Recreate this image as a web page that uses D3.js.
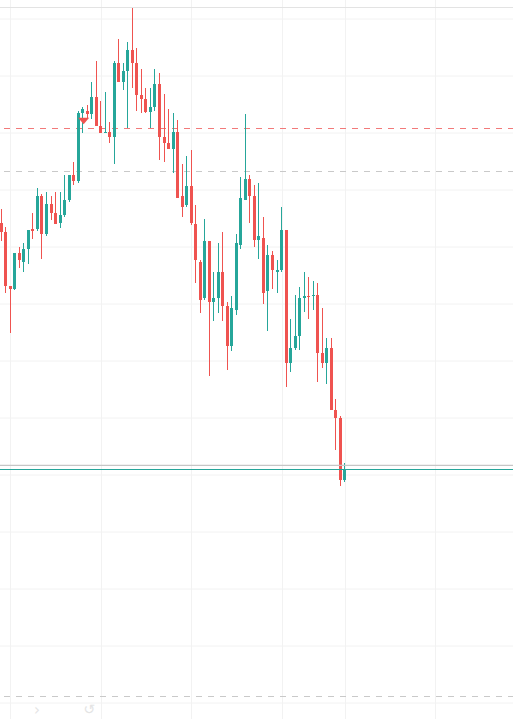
<!DOCTYPE html>
<html>
<head>
<meta charset="utf-8">
<script src="https://cdn.jsdelivr.net/npm/d3@7"></script>
<style>
  html, body { margin: 0; padding: 0; background: #ffffff; }
  #chart { width: 513px; height: 719px; overflow: hidden; }
</style>
</head>
<body>
<div id="chart"></div>
<script>
// candle data, one entry per bar (oldest first)
var open = [184.1,182.5,172.9,172.5,178.8,177.2,179.5,182.9,183.0,188.8,
  182.1,187.4,185.8,184.0,185.4,188.1,192.5,191.4,203.3,203.7,
  203.2,206.1,201.1,199.8,200.0,199.2,212.1,208.8,210.7,214.4,
  212.1,206.5,205.8,203.5,204.4,208.4,199.2,198.1,197.0,200.0,
  188.8,187.2,190.5,183.9,177.2,170.9,180.9,170.2,170.9,175.4,
  169.5,162.5,168.8,180.2,188.1,191.8,188.8,181.1,181.4,172.1,
  178.4,175.4,175.8,182.8,159.5,162.1,164.2,170.9,171.2,171.2,
  171.4,161.2,159.5,162.1,151.2,149.8,139.0]
var high = [186.5,183.3,172.9,178.8,179.8,180.5,182.8,185.8,190.2,189.2,
  189.5,188.8,189.5,189.5,192.5,192.5,194.7,203.7,204.4,204.7,
  208.8,212.5,205.4,207.0,201.8,212.5,216.3,212.1,215.8,221.8,
  214.7,211.1,207.7,207.7,211.1,210.4,206.7,204.0,203.3,202.1,
  194.4,195.8,196.8,187.2,177.5,184.7,180.9,175.4,180.5,182.5,
  170.2,171.2,182.1,192.1,203.2,192.5,190.7,191.1,185.1,180.2,
  179.1,177.5,186.8,182.8,167.2,171.4,172.8,175.4,174.6,173.9,
  173.5,169.1,163.9,163.9,153.2,150.2,141.9]
var low = [180.9,171.8,164.7,172.2,176.1,175.4,176.8,181.3,182.7,177.7,
  181.8,184.6,183.9,183.2,185.1,187.7,190.7,191.1,199.8,202.5,
  202.3,201.1,199.9,199.8,198.1,194.4,208.8,207.4,200.7,207.7,
  203.7,203.3,203.3,200.7,203.7,195.1,194.7,197.0,192.8,188.4,
  185.1,186.8,183.7,173.5,168.2,170.5,157.2,166.8,168.2,166.8,
  158.2,161.6,167.9,179.5,188.1,184.0,179.8,177.7,169.8,165.1,
  172.5,171.8,175.4,155.3,157.9,161.8,161.8,168.4,167.2,168.8,
  156.1,158.6,155.8,151.2,144.2,137.9,138.6]
var close = [182.5,172.9,172.5,178.8,177.5,179.5,182.8,182.7,188.8,182.1,
  187.4,185.8,183.9,185.4,188.1,192.5,191.4,203.3,204.0,203.2,
  206.1,201.1,199.9,200.0,199.2,212.1,208.8,210.7,214.4,212.1,
  206.5,205.8,203.5,204.4,208.4,199.2,198.1,197.0,200.0,188.4,
  186.8,190.5,184.0,177.5,170.5,180.9,170.2,170.9,175.4,169.5,
  162.5,169.1,180.5,188.4,191.8,188.8,181.1,181.8,171.8,178.4,
  175.8,175.8,182.8,159.5,162.1,164.2,170.9,171.2,171.1,171.4,
  161.2,159.5,162.1,151.2,149.8,139.0,140.9]

// grid (price levels and bar indexes where the time grid falls)
var gridPrices = d3.range(100, 221, 10)
var gridBars = [2, 22, 42, 62, 76, 96]

// horizontal lines on the chart
var redDashLevel = 200.7
var grayDashLevels = [193.1, 101.0]
var graySolidLevel = 141.5

// sell marker
var markerBar = 18
var markerPrice = 202.5

var WIDTH = 513, HEIGHT = 719
var UP = "#26a69a", DOWN = "#ef5350"

var svg = d3.select("#chart").append("svg")
  .attr("width", WIDTH)
  .attr("height", HEIGHT)
  .style("font-family", "DejaVu Sans, sans-serif")

var x = d3.scaleLinear()
  .domain([0, open.length - 1])
  .range([1.3, 344.8])

var y = d3.scaleLinear()
  .domain([100, 220])
  .range([702, 18])

// grid lines drawn with axes, labels removed
var yGrid = svg.append("g")
  .attr("class", "grid")
  .call(d3.axisRight(y).tickValues(gridPrices).tickSize(WIDTH).tickFormat(""))
yGrid.select(".domain").remove()
yGrid.selectAll("line").attr("stroke", "#f2f2f2")
  .attr("transform", "translate(0,0.5)")

var xGrid = svg.append("g")
  .attr("class", "grid")
  .call(d3.axisBottom(x).tickValues(gridBars).tickSize(HEIGHT).tickFormat(""))
xGrid.select(".domain").remove()
xGrid.selectAll(".tick").attr("transform", function(d){ return "translate(" + (Math.round(x(d)) + 0.5) + ",0)" })
xGrid.selectAll("line").attr("stroke", "#f2f2f2")

// top border of the pane
svg.append("line")
  .attr("x1", 0).attr("x2", WIDTH)
  .attr("y1", 7.5).attr("y2", 7.5)
  .attr("stroke", "#e3e3e3")

// dashed levels
svg.append("line")
  .attr("x1", 4).attr("x2", WIDTH)
  .attr("y1", Math.round(y(redDashLevel)) + 0.5).attr("y2", Math.round(y(redDashLevel)) + 0.5)
  .attr("stroke", "#f27a7a")
  .attr("stroke-dasharray", "6,6")

svg.selectAll(".graydash")
  .data(grayDashLevels)
  .enter().append("line")
  .attr("class", "graydash")
  .attr("x1", 4).attr("x2", WIDTH)
  .attr("y1", function(d){ return Math.round(y(d)) + 0.5 })
  .attr("y2", function(d){ return Math.round(y(d)) + 0.5 })
  .attr("stroke", "#c9c9c9")
  .attr("stroke-dasharray", "6,6")

// candles
var idx = d3.range(open.length)
var candles = svg.append("g").attr("shape-rendering", "crispEdges")

candles.selectAll(".wick")
  .data(idx)
  .enter().append("rect")
  .attr("class", "wick")
  .attr("x", function(i){ return Math.round(x(i) - 1.5) + 1 })
  .attr("width", 1)
  .attr("y", function(i){ return Math.round(y(high[i])) })
  .attr("height", function(i){ return Math.max(1, Math.round(y(low[i])) - Math.round(y(high[i]))) })
  .attr("fill", function(i){ return close[i] >= open[i] ? UP : DOWN })

candles.selectAll(".body")
  .data(idx)
  .enter().append("rect")
  .attr("class", "body")
  .attr("x", function(i){ return Math.round(x(i) - 1.5) })
  .attr("width", 3)
  .attr("y", function(i){ return Math.round(y(Math.max(open[i], close[i]))) })
  .attr("height", function(i){
    return Math.max(1, Math.round(y(Math.min(open[i], close[i]))) - Math.round(y(Math.max(open[i], close[i]))))
  })
  .attr("fill", function(i){ return close[i] >= open[i] ? UP : DOWN })

// sell marker (down triangle)
var mx = x(markerBar) + 1, my = y(markerPrice)
svg.append("path")
  .attr("d", "M" + (mx - 5.5) + "," + my + "L" + (mx + 5.5) + "," + my + "L" + mx + "," + (my + 6.5) + "Z")
  .attr("fill", DOWN)

// solid lines: gray level and last price
svg.append("line")
  .attr("x1", 0).attr("x2", WIDTH)
  .attr("y1", y(graySolidLevel)).attr("y2", y(graySolidLevel))
  .attr("stroke", "#c6c6c6")
  .attr("stroke-width", 1.3)

var last = close[close.length - 1]
svg.append("line")
  .attr("x1", 0).attr("x2", WIDTH)
  .attr("y1", Math.round(y(last)) + 0.5).attr("y2", Math.round(y(last)) + 0.5)
  .attr("stroke", UP)
  .attr("stroke-width", 1)

// faint navigation buttons at the bottom
svg.append("text")
  .attr("x", 37).attr("y", 715)
  .attr("text-anchor", "middle")
  .attr("font-size", 15)
  .attr("fill", "#e4e4e4")
  .text("›")

svg.append("text")
  .attr("x", 89).attr("y", 714)
  .attr("text-anchor", "middle")
  .attr("font-size", 14)
  .attr("fill", "#e4e4e4")
  .text("↺")
</script>
</body>
</html>
